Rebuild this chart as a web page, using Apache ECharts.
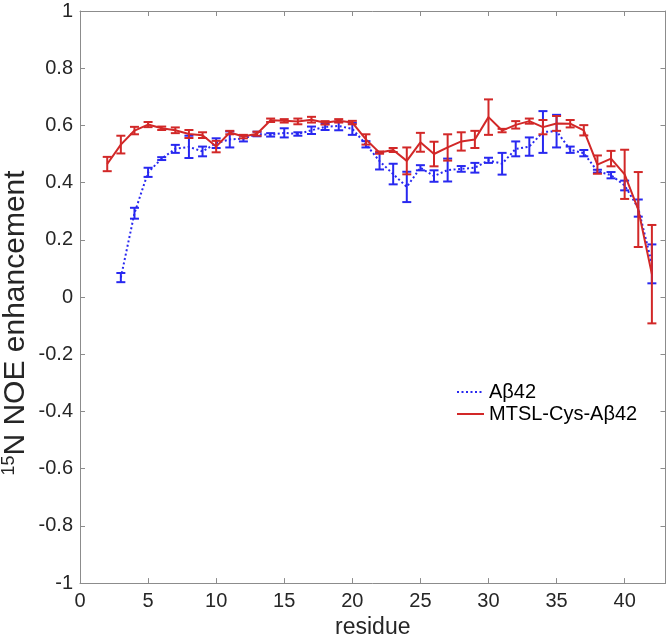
<!DOCTYPE html>
<html>
<head>
<meta charset="utf-8">
<script src="https://cdn.jsdelivr.net/npm/echarts@6/dist/echarts.min.js"></script>
<style>html,body{margin:0;padding:0;background:#fff;}#c{width:668px;height:644px;}</style>
</head>
<body>
<div id="c"></div>
<script>
// Aβ42 (blue dotted), residues 3..42
const blueResidues = [3,4,5,6,7,8,9,10,11,12,13,14,15,16,17,18,19,20,21,22,23,24,25,26,27,28,29,30,31,32,33,34,35,36,37,38,39,40,41,42];
const blueValues = [0.068,0.293,0.436,0.484,0.518,0.525,0.509,0.538,0.551,0.554,0.570,0.567,0.574,0.570,0.583,0.595,0.598,0.588,0.534,0.475,0.430,0.385,0.452,0.423,0.444,0.448,0.452,0.478,0.466,0.518,0.526,0.577,0.580,0.515,0.503,0.440,0.426,0.390,0.311,0.116];
const blueErrors = [0.016,0.019,0.016,0.005,0.014,0.039,0.017,0.017,0.028,0.010,0.008,0.006,0.016,0.006,0.013,0.011,0.015,0.021,0.011,0.029,0.036,0.053,0.009,0.020,0.040,0.010,0.017,0.009,0.038,0.026,0.032,0.073,0.057,0.011,0.011,0.005,0.011,0.017,0.030,0.068];
// MTSL-Cys-Aβ42 (red solid), residues 2..42
const redResidues = [2,3,4,5,6,7,8,9,10,11,12,13,14,15,16,17,18,19,20,21,22,23,24,25,26,27,28,29,30,31,32,33,34,35,36,37,38,39,40,41,42];
const redValues = [0.465,0.533,0.582,0.603,0.590,0.583,0.570,0.566,0.526,0.575,0.561,0.571,0.618,0.616,0.614,0.620,0.609,0.616,0.610,0.551,0.505,0.514,0.476,0.541,0.500,0.523,0.544,0.551,0.629,0.582,0.602,0.615,0.594,0.607,0.606,0.583,0.463,0.484,0.429,0.306,0.080];
const redErrors = [0.025,0.031,0.013,0.009,0.006,0.010,0.014,0.010,0.020,0.006,0.006,0.007,0.006,0.006,0.010,0.010,0.006,0.006,0.006,0.018,0.004,0.007,0.047,0.033,0.043,0.046,0.032,0.030,0.062,0.006,0.013,0.009,0.025,0.026,0.013,0.018,0.032,0.027,0.086,0.131,0.172];
const xTicks = {min: 0, max: 43, interval: 5};
const yTicks = {min: -1, max: 1, interval: 0.2};

const BLUE = '#2828f0';
const RED = '#d22828';
const AXIS = '#8c8c8c';
const TXT = '#262626';
const FONT = '"Liberation Sans", Arial, Helvetica, sans-serif';

function pairs(xs, ys) { return xs.map((x, i) => [x, ys[i]]); }
function bars(xs, ys, es) { return xs.map((x, i) => [x, ys[i] - es[i], ys[i] + es[i]]); }

function errRender(color) {
  return function (params, api) {
    const x = api.value(0);
    const lo = api.coord([x, api.value(1)]);
    const hi = api.coord([x, api.value(2)]);
    const hw = 4.5;
    const st = {stroke: color, lineWidth: 2};
    return {
      type: 'group',
      children: [
        {type: 'line', shape: {x1: lo[0], y1: lo[1], x2: hi[0], y2: hi[1]}, style: st},
        {type: 'line', shape: {x1: lo[0] - hw, y1: lo[1], x2: lo[0] + hw, y2: lo[1]}, style: st},
        {type: 'line', shape: {x1: hi[0] - hw, y1: hi[1], x2: hi[0] + hw, y2: hi[1]}, style: st}
      ]
    };
  };
}

const axisLineStyle = {lineStyle: {color: AXIS, width: 1}};
const tickStyle = {inside: true, length: 5, lineStyle: {color: AXIS, width: 1}};

function xAxisDef(pos, show) {
  return {
    type: 'value', position: pos, min: xTicks.min, max: xTicks.max, interval: xTicks.interval,
    axisLine: {show: true, onZero: false, ...axisLineStyle},
    axisTick: tickStyle,
    splitLine: {show: false},
    axisLabel: {show: show, margin: 8, showMaxLabel: false, color: TXT, fontSize: 20, fontFamily: FONT},
    name: show ? 'residue' : '', nameLocation: 'middle', nameGap: 29,
    nameTextStyle: {color: TXT, fontSize: 23, fontFamily: FONT}
  };
}
function yAxisDef(pos, show) {
  return {
    type: 'value', position: pos, min: yTicks.min, max: yTicks.max, interval: yTicks.interval,
    axisLine: {show: true, onZero: false, ...axisLineStyle},
    axisTick: tickStyle,
    splitLine: {show: false},
    axisLabel: {show: show, margin: 7, color: TXT, fontSize: 20, fontFamily: FONT,
      formatter: v => String(Math.round(v * 10) / 10)}
  };
}

const chart = echarts.init(document.getElementById('c'), null, {renderer: 'canvas'});
chart.setOption({
  animation: false,
  backgroundColor: '#fff',
  grid: {left: 80, top: 11, width: 585.5, height: 580, containLabel: false},
  xAxis: [xAxisDef('bottom', true), xAxisDef('top', false)],
  yAxis: [yAxisDef('left', true), yAxisDef('right', false)],
  legend: {
    orient: 'vertical', left: 456, top: 382, padding: 0,
    itemWidth: 27, itemHeight: 14, itemGap: 2,
    itemStyle: {opacity: 0},
    textStyle: {color: '#000', fontSize: 20, fontFamily: FONT, lineHeight: 20},
    data: ['Aβ42', 'MTSL-Cys-Aβ42']
  },
  graphic: [{
    type: 'text', x: 16, y: 323, rotation: Math.PI / 2,
    style: {
      text: '{sup|15}{m|N NOE enhancement}',
      align: 'center', verticalAlign: 'middle', fill: TXT,
      rich: {
        sup: {fontSize: 18, fontFamily: FONT, fill: TXT, verticalAlign: 'top', lineHeight: 32},
        m: {fontSize: 30, fontFamily: FONT, fill: TXT, lineHeight: 32}
      }
    }
  }],
  series: [
    {
      name: 'Aβ42', type: 'line', symbol: 'none', data: pairs(blueResidues, blueValues),
      lineStyle: {color: BLUE, width: 2, type: [2, 2.5]}, itemStyle: {color: BLUE}, z: 2
    },
    {
      name: 'Aβ42-err', type: 'custom', renderItem: errRender(BLUE),
      data: bars(blueResidues, blueValues, blueErrors), encode: {x: 0, y: [1, 2]}, z: 2
    },
    {
      name: 'MTSL-Cys-Aβ42', type: 'line', symbol: 'none', data: pairs(redResidues, redValues),
      lineStyle: {color: RED, width: 2}, itemStyle: {color: RED}, z: 3
    },
    {
      name: 'MTSL-err', type: 'custom', renderItem: errRender(RED),
      data: bars(redResidues, redValues, redErrors), encode: {x: 0, y: [1, 2]}, z: 3
    }
  ]
});
</script>
</body>
</html>
